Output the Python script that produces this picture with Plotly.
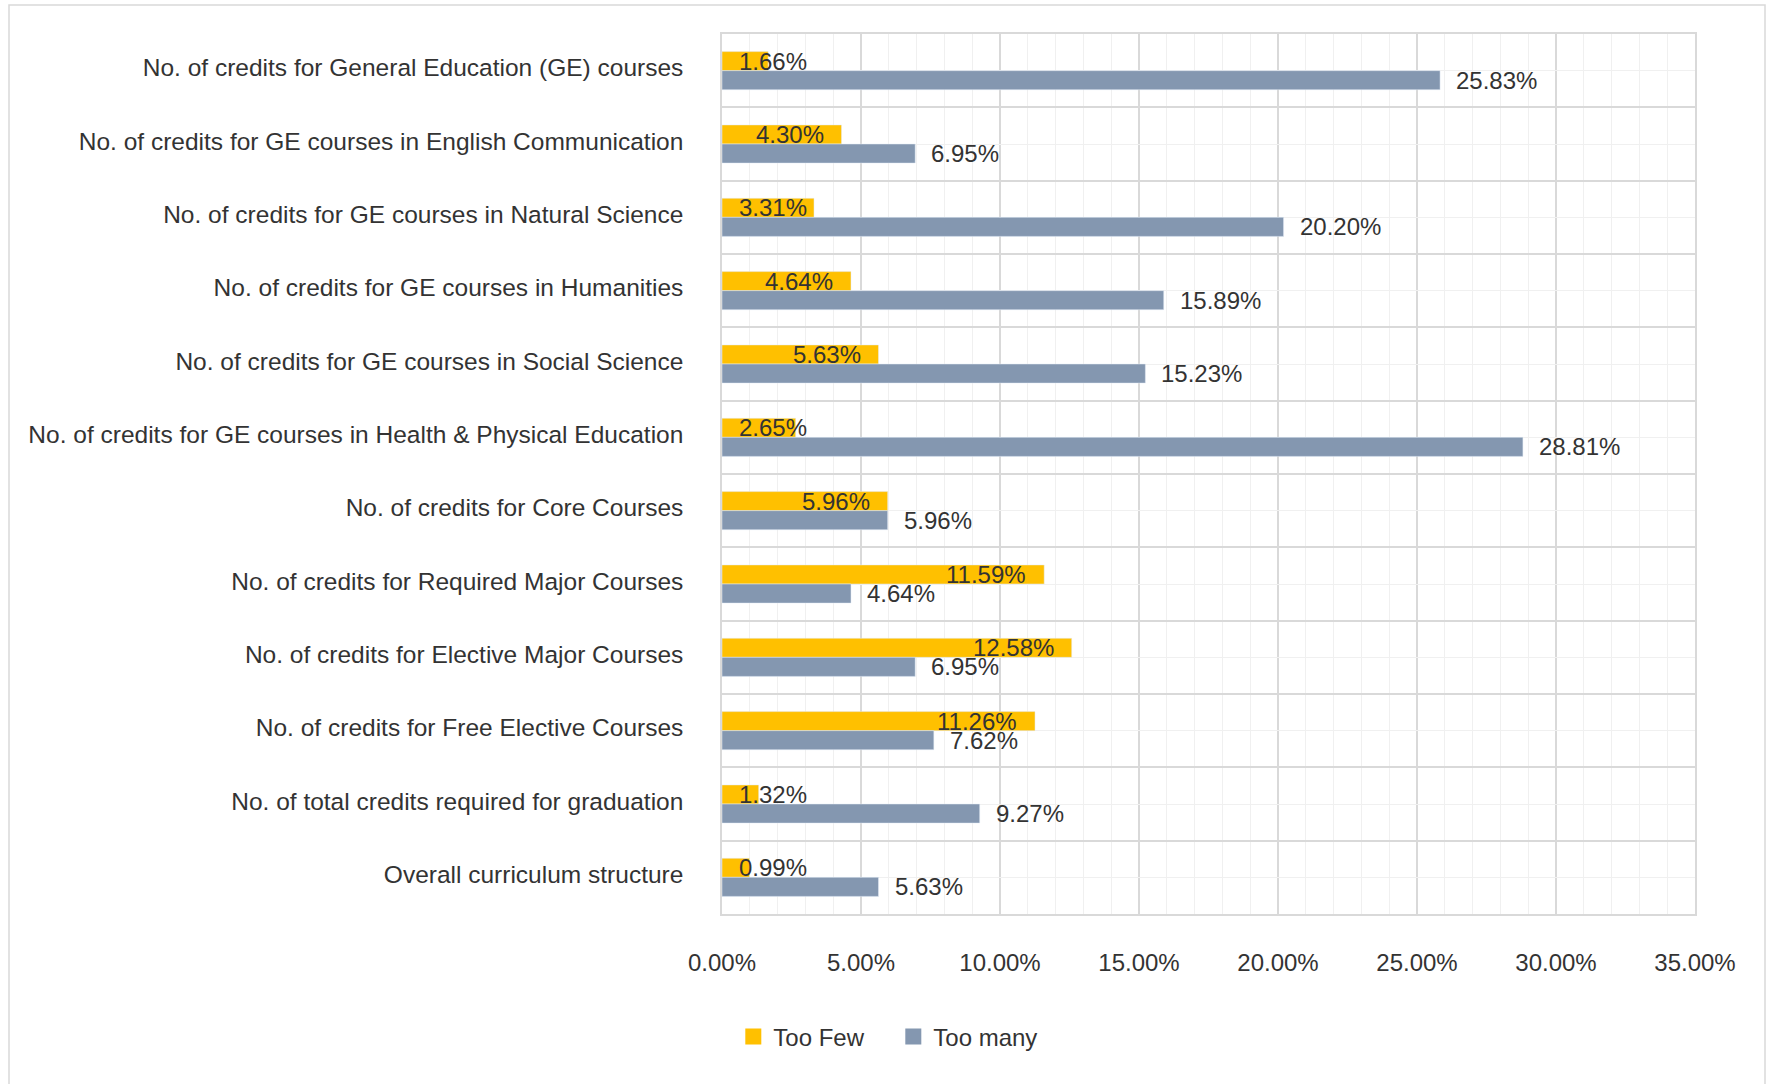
import plotly.graph_objects as go

categories = [
    "No. of credits for General Education (GE) courses",
    "No. of credits for GE courses in English Communication",
    "No. of credits for GE courses in Natural Science",
    "No. of credits for GE courses in Humanities",
    "No. of credits for GE courses in Social Science",
    "No. of credits for GE courses in Health & Physical Education",
    "No. of credits for Core Courses",
    "No. of credits for Required Major Courses",
    "No. of credits for Elective Major Courses",
    "No. of credits for Free Elective Courses",
    "No. of total credits required for graduation",
    "Overall curriculum structure",
]
too_few = [1.66, 4.30, 3.31, 4.64, 5.63, 2.65, 5.96, 11.59, 12.58, 11.26, 1.32, 0.99]
too_many = [25.83, 6.95, 20.20, 15.89, 15.23, 28.81, 5.96, 4.64, 6.95, 7.62, 9.27, 5.63]

yellow = "#FFC000"
grey = "#8497B0"
font = "Liberation Sans, Arial, sans-serif"
txt = "#333333"

pos = list(range(len(categories)))
few = [v / 100 for v in too_few]
many = [v / 100 for v in too_many]

W, H = 1767, 1084
L, R, T, B = 722, 72, 34, 170
plot_w = W - L - R
plot_h = H - T - B
px_per = plot_w / 0.35

fig = go.Figure()
fig.add_trace(go.Bar(y=pos, x=few, orientation="h", marker_color=yellow,
                     name="Too Few", showlegend=False))
fig.add_trace(go.Bar(y=pos, x=many, orientation="h", marker_color=grey,
                     name="Too many", showlegend=False))
# legend squares
fig.add_trace(go.Scatter(x=[None], y=[None], mode="markers", name="Too Few",
                         marker=dict(symbol="square", size=22, color=yellow)))
fig.add_trace(go.Scatter(x=[None], y=[None], mode="markers", name="Too many",
                         marker=dict(symbol="square", size=22, color=grey)))

half = (1 - 0.48) / 4
for i, (a, b) in enumerate(zip(few, many)):
    # Too Few label: inside end, or pushed right when bar is short
    if a * px_per - 17 - 66 < 16:
        fig.add_annotation(x=0, y=i - half, text=f"{a:.2%}", showarrow=False,
                           xanchor="left", xshift=15)
    else:
        fig.add_annotation(x=a, y=i - half, text=f"{a:.2%}", showarrow=False,
                           xanchor="right", xshift=-16)
    fig.add_annotation(x=b, y=i + half, text=f"{b:.2%}", showarrow=False,
                       xanchor="left", xshift=14)

fig.update_annotations(font=dict(family=font, size=24, color=txt))

fig.update_layout(
    width=W, height=H,
    margin=dict(l=L, r=R, t=T, b=B),
    barmode="group", bargap=0.48, bargroupgap=0,
    plot_bgcolor="white", paper_bgcolor="white",
    font=dict(family=font, size=24, color=txt),
    legend=dict(orientation="h", xref="container", yref="container",
                x=0.415, y=1 - 1037 / H, xanchor="left", yanchor="middle",
                font=dict(size=24, color=txt), itemwidth=30, entrywidth=115),
    shapes=[dict(type="rect", xref="paper", yref="paper",
                 x0=(9 - L) / plot_w, x1=(1765 - L) / plot_w,
                 y0=-0.3, y1=(H - B - 5) / plot_h,
                 line=dict(color="#d9d9d9", width=1.5), layer="below")],
)
fig.update_xaxes(range=[0, 0.35], dtick=0.05, tickformat=".2%",
                 showgrid=True, gridcolor="#d9d9d9", gridwidth=1.5,
                 minor=dict(dtick=0.01, showgrid=True, gridcolor="#f0f0f0", gridwidth=1),
                 showline=True, linecolor="#d9d9d9", linewidth=1.5, mirror=True,
                 zeroline=False, ticklabelstandoff=26,
                 tickfont=dict(size=24, color=txt))
fig.update_yaxes(range=[len(categories) - 0.5, -0.5], tickvals=pos, ticktext=categories,
                 showgrid=True, gridcolor="#f0f0f0", gridwidth=1,
                 minor=dict(tick0=-0.5, dtick=1, showgrid=True, gridcolor="#d9d9d9", gridwidth=1.5),
                 showline=True, linecolor="#d9d9d9", linewidth=1.5, mirror=True,
                 zeroline=False, ticklabelstandoff=32, ticklabelshift=3,
                 tickfont=dict(size=24.5, color=txt))

fig.write_html("out.html", config={"displayModeBar": False},
               post_script="document.body.style.margin='0';")
